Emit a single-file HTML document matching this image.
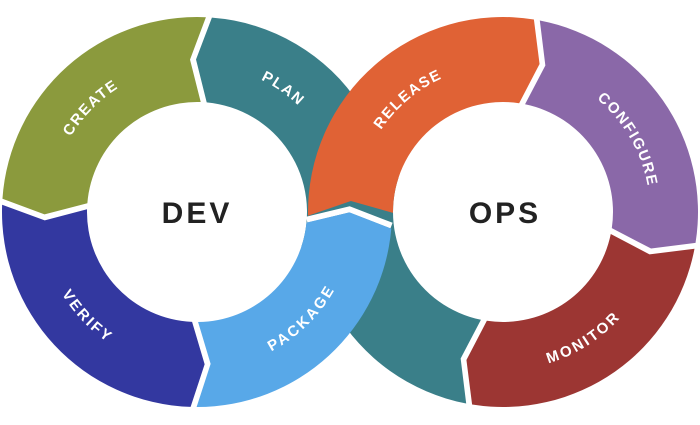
<!DOCTYPE html>
<html><head><meta charset="utf-8"><style>
html,body{margin:0;padding:0;background:#fff;}
svg{display:block;}
.l{font-family:"Liberation Sans",sans-serif;font-weight:bold;font-size:15px;fill:#fff;letter-spacing:2px;}
.c{font-family:"Liberation Sans",sans-serif;font-weight:bold;font-size:30px;fill:#222;letter-spacing:3px;}
</style></head><body>
<svg id="s" width="700" height="425" viewBox="0 0 700 425" xmlns="http://www.w3.org/2000/svg">
<defs id="d"></defs>
<g id="g"></g>
<text class="c" x="197" y="223" text-anchor="middle">DEV</text>
<text class="c" x="505" y="223" text-anchor="middle">OPS</text>
</svg>
<script>
var NS="http://www.w3.org/2000/svg";
var Ro=195,Ri=110,Rm=152.5,G=3,T=5;
function P(cx,cy,a,r){var t=a*Math.PI/180;return (cx+r*Math.cos(t)).toFixed(2)+","+(cy+r*Math.sin(t)).toFixed(2);}
function add(d,fill,stroke,sw){var p=document.createElementNS(NS,"path");p.setAttribute("d",d);p.setAttribute("fill",fill);
  if(stroke){p.setAttribute("stroke",stroke);p.setAttribute("stroke-width",sw);}
  document.getElementById("g").appendChild(p);}
function seg(cx,cy,a1,a2,dir,col,notch,tip){
  var k=180/Math.PI;
  var span=Math.abs(a2-a1);var la=span>180?1:0;
  var sw=dir>0?1:0, sw2=dir>0?0:1;
  var d="M"+P(cx,cy,a1+dir*G/Ro*k,Ro);
  d+=" A"+Ro+","+Ro+" 0 "+la+" "+sw+" "+P(cx,cy,a2-dir*G/Ro*k,Ro);
  if(tip) d+=" L"+P(cx,cy,a2+dir*T-dir*G/Rm*k,Rm);
  d+=" L"+P(cx,cy,a2-dir*G/Ri*k,Ri);
  d+=" A"+Ri+","+Ri+" 0 "+la+" "+sw2+" "+P(cx,cy,a1+dir*G/Ri*k,Ri);
  if(notch) d+=" L"+P(cx,cy,a1+dir*T+dir*G/Rm*k,Rm);
  d+=" Z";
  add(d,col);
}
var n=0;
function lab(cx,cy,c,cw,txt){
  var r=Rm, id="tp"+(n++);
  var a1=cw?c-45:c+45, a2=cw?c+45:c-45;
  var p=document.createElementNS(NS,"path");p.setAttribute("id",id);
  p.setAttribute("d","M"+P(cx,cy,a1,r)+" A"+r+","+r+" 0 0 "+(cw?1:0)+" "+P(cx,cy,a2,r));
  p.setAttribute("fill","none");
  document.getElementById("d").appendChild(p);
  var t=document.createElementNS(NS,"text");t.setAttribute("class","l");t.setAttribute("dy","5.5");
  var tp=document.createElementNS(NS,"textPath");tp.setAttribute("href","#"+id);
  tp.setAttributeNS("http://www.w3.org/1999/xlink","xlink:href","#"+id);
  tp.setAttribute("startOffset","50%");tp.setAttribute("text-anchor","middle");tp.textContent=txt;
  t.appendChild(tp);document.getElementById("g").appendChild(t);
}
var dx=197,dy=212,ox=503,oy=212;
seg(dx,dy,20,-86.5,-1,"#3a7f89",false,true);
seg(ox,oy,100,200,1,"#3a7f89",true,false);
seg(dx,dy,-86.5,-177,-1,"#8b9a3d",true,true);
seg(dx,dy,-177,-269,-1,"#3338a0",true,true);
seg(ox,oy,280,370,1,"#8a68a8",true,true);
seg(ox,oy,370,460,1,"#9c3633",true,true);
/* white gap at crossing between PACKAGE and RELEASE */
add("M"+P(dx,dy,4,Ro)+" L"+P(dx,dy,4-T,Rm)+" L"+P(dx,dy,4,Ri),"none","#fff",2*G);
seg(ox,oy,178,280,1,"#e06235",true,true);
seg(dx,dy,91,4,-1,"#58a8e8",true,true);
lab(dx,dy,305,true,"PLAN");
lab(dx,dy,224.5,true,"CREATE");
lab(dx,dy,136.5,false,"VERIFY");
lab(dx,dy,45.5,false,"PACKAGE");
lab(ox,oy,230,true,"RELEASE");
lab(ox,oy,330,true,"CONFIGURE");
lab(ox,oy,57.5,false,"MONITOR");
</script>
</body></html>
